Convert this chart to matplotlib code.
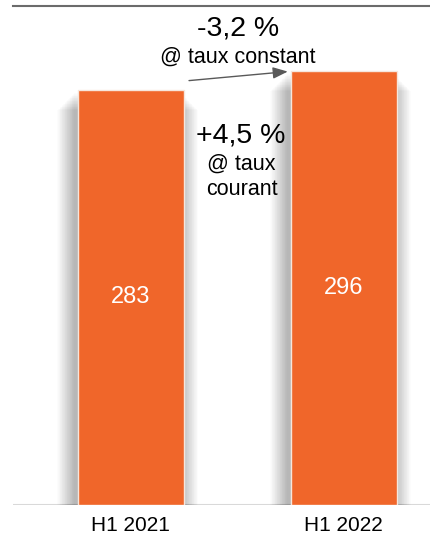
import matplotlib.pyplot as plt
import numpy as np

plt.rcParams['font.family'] = ['Liberation Sans', 'DejaVu Sans']

periods = ["H1 2021", "H1 2022"]
values = [283, 296]
growth_const = "-3,2 %"
growth_curr = "+4,5 %"

orange = "#F0662A"

fig = plt.figure(figsize=(4.31, 5.36), dpi=100)
ax = fig.add_axes([13/431, 31/536, 418/431, 499/536])

x = np.arange(len(values))

# soft shadow behind the bars
n = 24
for i in range(n):
    w = 0.5 + 0.16 * (n - i) / n
    h = np.array(values) - 14 + 12 * i / n
    ax.bar(x - 0.015, h, width=w, color="black",
           alpha=0.010, linewidth=0, zorder=1)

ax.bar(x, values, width=0.5, color=orange, edgecolor="#f6e6dc",
       linewidth=1, zorder=2)

for xi, v in zip(x, values):
    ax.text(xi, v / 2, str(v), color="white", fontsize=17,
            ha="center", va="center", zorder=3)

ax.set_xlim(-0.554, 1.41)
ax.set_ylim(0, 340)

for s in ["left", "right", "bottom"]:
    ax.spines[s].set_visible(False)
ax.spines["top"].set_color("#6b6b6b")
ax.spines["top"].set_linewidth(1.5)
ax.axhline(0, color="#d9d9d9", linewidth=1.5, zorder=0)

ax.set_yticks([])
ax.set_xticks(x)
ax.set_xticklabels(periods, fontsize=15)
ax.tick_params(axis="x", length=0, pad=8)

# arrow between the bars
ax.annotate("", xy=(0.75, 295.5), xytext=(0.26, 289),
            arrowprops=dict(arrowstyle="-|>,head_length=0.9,head_width=0.35",
                            color="#595959", lw=1), zorder=4)

ax.text(0.505, 325, growth_const, fontsize=20.5, ha="center", va="center")
ax.text(0.5, 305, "@ taux constant", fontsize=15.5, ha="center", va="center")
ax.text(0.515, 252, growth_curr, fontsize=20.5, ha="center", va="center")
ax.text(0.52, 232, "@ taux", fontsize=15.5, ha="center", va="center")
ax.text(0.52, 215, "courant", fontsize=15.5, ha="center", va="center")

fig.savefig("out.png", dpi=100)
